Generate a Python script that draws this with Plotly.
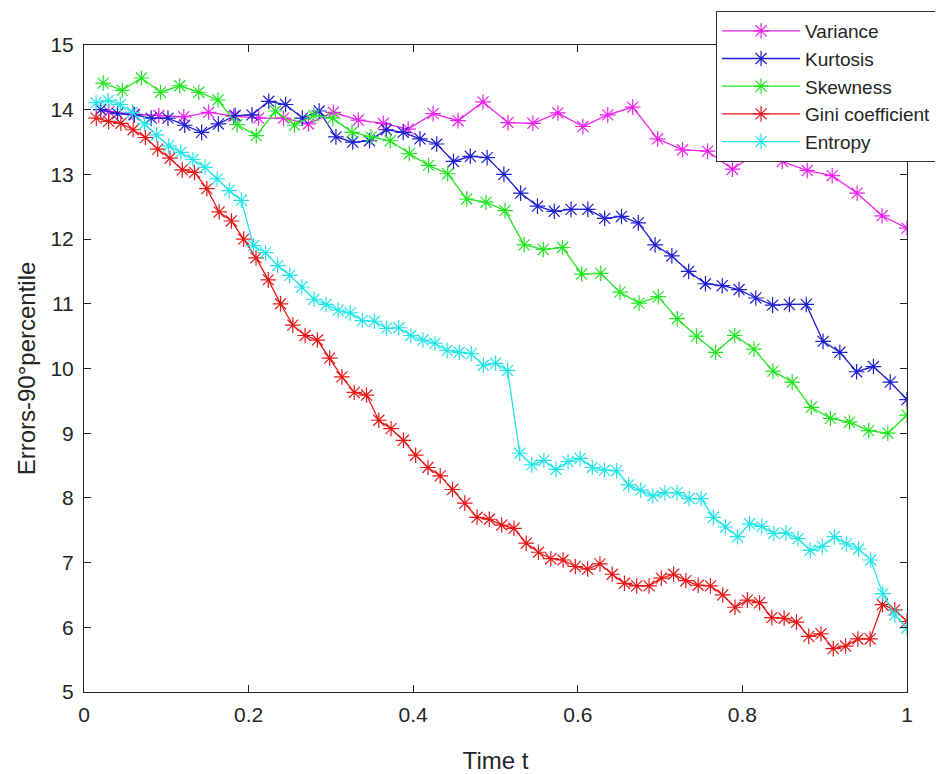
import plotly.graph_objects as go

# ---- data ----
t_variance = [0.0303, 0.0606, 0.0909, 0.1212, 0.1515, 0.1818, 0.2121, 0.2424, 0.2727, 0.3030,
              0.3333, 0.3636, 0.3939, 0.4242, 0.4545, 0.4848, 0.5152, 0.5455, 0.5758, 0.6061,
              0.6364, 0.6667, 0.6970, 0.7273, 0.7576, 0.7879, 0.8182, 0.8485, 0.8788, 0.9091,
              0.9394, 0.9697, 1.0]
variance = [13.97, 13.93, 13.91, 13.89, 13.96, 13.90, 13.87, 13.87, 13.78, 13.96,
            13.84, 13.79, 13.70, 13.94, 13.83, 14.12, 13.80, 13.79, 13.95, 13.74,
            13.92, 14.04, 13.55, 13.38, 13.36, 13.08, 13.34, 13.20, 13.06, 12.98,
            12.71, 12.36, 12.17]

t_kurtosis = [0.0204, 0.0408, 0.0612, 0.0816, 0.1020, 0.1224, 0.1429, 0.1633, 0.1837, 0.2041,
              0.2245, 0.2449, 0.2653, 0.2857, 0.3061, 0.3265, 0.3469, 0.3673, 0.3878, 0.4082,
              0.4286, 0.4490, 0.4694, 0.4898, 0.5102, 0.5306, 0.5510, 0.5714, 0.5918, 0.6122,
              0.6327, 0.6531, 0.6735, 0.6939, 0.7143, 0.7347, 0.7551, 0.7755, 0.7959, 0.8163,
              0.8367, 0.8571, 0.8776, 0.8980, 0.9184, 0.9388, 0.9592, 0.9796, 1.0]
kurtosis = [14.00, 13.94, 13.92, 13.87, 13.87, 13.76, 13.65, 13.78, 13.91, 13.92,
            14.13, 14.08, 13.87, 13.98, 13.58, 13.50, 13.52, 13.69, 13.65, 13.55,
            13.47, 13.20, 13.28, 13.26, 13.00, 12.71, 12.51, 12.43, 12.46, 12.46,
            12.32, 12.35, 12.25, 11.91, 11.74, 11.50, 11.31, 11.28, 11.22, 11.09,
            10.98, 10.99, 10.99, 10.42, 10.25, 9.95, 10.03, 9.79, 9.52]

t_skewness = [0.0233, 0.0465, 0.0698, 0.0930, 0.1163, 0.1395, 0.1628, 0.1860, 0.2093, 0.2326,
              0.2558, 0.2791, 0.3023, 0.3256, 0.3488, 0.3721, 0.3953, 0.4186, 0.4419, 0.4651,
              0.4884, 0.5116, 0.5349, 0.5581, 0.5814, 0.6047, 0.6279, 0.6512, 0.6744, 0.6977,
              0.7209, 0.7442, 0.7674, 0.7907, 0.8140, 0.8372, 0.8605, 0.8837, 0.9070, 0.9302,
              0.9535, 0.9767, 1.0]
skewness = [14.41, 14.30, 14.49, 14.27, 14.37, 14.27, 14.15, 13.77, 13.60, 13.98,
            13.76, 13.91, 13.87, 13.65, 13.58, 13.52, 13.32, 13.14, 13.01, 12.62,
            12.57, 12.44, 11.91, 11.84, 11.87, 11.46, 11.47, 11.18, 11.01, 11.11,
            10.77, 10.50, 10.25, 10.51, 10.30, 9.96, 9.79, 9.40, 9.23, 9.17,
            9.04, 9.00, 9.28]

t_gini = [0.0149, 0.0299, 0.0448, 0.0597, 0.0746, 0.0896, 0.1045, 0.1194, 0.1343, 0.1493,
          0.1642, 0.1791, 0.1940, 0.2090, 0.2239, 0.2388, 0.2537, 0.2687, 0.2836, 0.2985,
          0.3134, 0.3284, 0.3433, 0.3582, 0.3731, 0.3881, 0.4030, 0.4179, 0.4328, 0.4478,
          0.4627, 0.4776, 0.4925, 0.5075, 0.5224, 0.5373, 0.5522, 0.5672, 0.5821, 0.5970,
          0.6119, 0.6269, 0.6418, 0.6567, 0.6716, 0.6866, 0.7015, 0.7164, 0.7313, 0.7463,
          0.7612, 0.7761, 0.7910, 0.8060, 0.8209, 0.8358, 0.8507, 0.8657, 0.8806, 0.8955,
          0.9104, 0.9254, 0.9403, 0.9552, 0.9701, 0.9851, 1.0]
gini = [13.87, 13.82, 13.79, 13.69, 13.57, 13.39, 13.25, 13.07, 13.03, 12.78,
        12.42, 12.28, 12.00, 11.71, 11.37, 11.00, 10.67, 10.51, 10.44, 10.16,
        9.87, 9.63, 9.59, 9.20, 9.07, 8.89, 8.66, 8.47, 8.34, 8.13,
        7.92, 7.70, 7.67, 7.58, 7.53, 7.30, 7.16, 7.06, 7.04, 6.94,
        6.90, 6.98, 6.82, 6.68, 6.64, 6.64, 6.76, 6.82, 6.72, 6.65,
        6.64, 6.50, 6.31, 6.42, 6.38, 6.15, 6.14, 6.08, 5.86, 5.90,
        5.67, 5.71, 5.82, 5.82, 6.35, 6.27, 6.09]

t_entropy = [0.0147, 0.0294, 0.0441, 0.0588, 0.0735, 0.0882, 0.1029, 0.1176, 0.1324, 0.1471,
             0.1618, 0.1765, 0.1912, 0.2059, 0.2206, 0.2353, 0.2500, 0.2647, 0.2794, 0.2941,
             0.3088, 0.3235, 0.3382, 0.3529, 0.3676, 0.3824, 0.3971, 0.4118, 0.4265, 0.4412,
             0.4559, 0.4706, 0.4853, 0.5000, 0.5147, 0.5294, 0.5441, 0.5588, 0.5735, 0.5882,
             0.6029, 0.6176, 0.6324, 0.6471, 0.6618, 0.6765, 0.6912, 0.7059, 0.7206, 0.7353,
             0.7500, 0.7647, 0.7794, 0.7941, 0.8088, 0.8235, 0.8382, 0.8529, 0.8676, 0.8824,
             0.8971, 0.9118, 0.9265, 0.9412, 0.9559, 0.9706, 0.9853, 1.0]
entropy = [14.11, 14.14, 14.08, 13.96, 13.78, 13.61, 13.44, 13.34, 13.23, 13.11,
           12.93, 12.75, 12.60, 11.90, 11.79, 11.59, 11.44, 11.26, 11.07, 10.99,
           10.90, 10.86, 10.74, 10.73, 10.62, 10.63, 10.51, 10.44, 10.39, 10.28,
           10.25, 10.23, 10.05, 10.08, 9.97, 8.69, 8.51, 8.58, 8.44, 8.56,
           8.61, 8.47, 8.43, 8.42, 8.20, 8.12, 8.03, 8.08, 8.08, 7.99,
           7.99, 7.70, 7.55, 7.40, 7.60, 7.56, 7.45, 7.46, 7.37, 7.19,
           7.25, 7.40, 7.29, 7.21, 7.04, 6.52, 6.19, 5.99]

x_ticks = [0, 0.2, 0.4, 0.6, 0.8, 1]
x_tick_labels = ["0", "0.2", "0.4", "0.6", "0.8", "1"]
y_ticks = [5, 6, 7, 8, 9, 10, 11, 12, 13, 14, 15]

series = [
    ("Variance", t_variance, variance, "#EE22EE"),
    ("Kurtosis", t_kurtosis, kurtosis, "#1E1ED2"),
    ("Skewness", t_skewness, skewness, "#22E622"),
    ("Gini coefficient", t_gini, gini, "#E81818"),
    ("Entropy", t_entropy, entropy, "#22E6E6"),
]

FONT = "Liberation Sans, Arial, sans-serif"
INK = "#262626"

fig = go.Figure()
for name, xs, ys, col in series:
    fig.add_trace(go.Scatter(
        x=xs, y=ys, name=name, mode="lines+markers",
        line=dict(color=col, width=1.3),
        marker=dict(symbol="asterisk-open", size=13, color=col,
                    line=dict(color=col, width=1.2)),
    ))

axis_font = dict(family=FONT, size=21, color=INK)

fig.update_layout(
    width=943, height=774,
    margin=dict(l=76, r=44, t=37, b=90, autoexpand=False),
    paper_bgcolor="white", plot_bgcolor="white",
    font=dict(family=FONT, color=INK),
    showlegend=True,
    legend=dict(
        x=0.768, y=1.0526, xanchor="left", yanchor="top",
        bgcolor="white", bordercolor="#333333", borderwidth=1,
        font=dict(family=FONT, size=19, color=INK),
        tracegroupgap=0, itemwidth=78,
    ),
)
fig.update_xaxes(
    range=[0, 1], tickvals=x_ticks, ticktext=x_tick_labels,
    ticks="inside", ticklen=7, tickcolor=INK, tickwidth=1,
    showline=True, linecolor=INK, linewidth=1, mirror="ticks",
    showgrid=False, zeroline=False, tickfont=axis_font, ticklabelstandoff=4,
    title=dict(text="Time t", font=dict(family=FONT, size=24, color=INK), standoff=26),
)
fig.update_yaxes(
    range=[5, 15], tickvals=y_ticks,
    ticks="inside", ticklen=7, tickcolor=INK, tickwidth=1,
    showline=True, linecolor=INK, linewidth=1, mirror="ticks",
    showgrid=False, zeroline=False, tickfont=axis_font, ticklabelstandoff=5,
    title=dict(text="Errors-90°percentile", font=dict(family=FONT, size=24, color=INK), standoff=8),
)

fig.write_html("out.html")
